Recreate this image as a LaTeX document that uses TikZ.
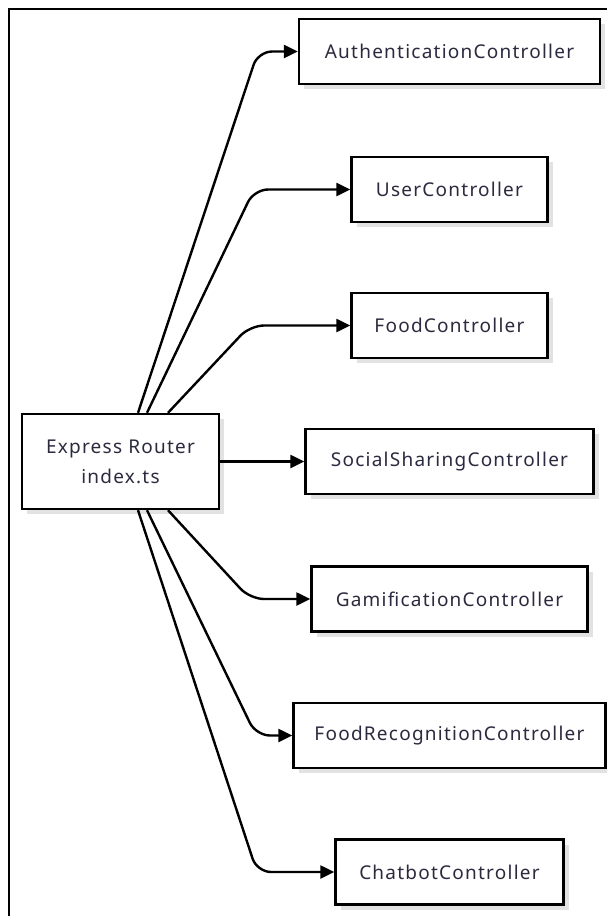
\documentclass[tikz,border=0pt]{standalone}
\usepackage{fontspec}
\setmainfont{Noto Sans}[LetterSpace=6.5]
\usetikzlibrary{arrows.meta,shadows}
\definecolor{labelink}{HTML}{2B2A3F}
\definecolor{shadowgray}{HTML}{E2E2E2}
\tikzset{
  ctrl/.style={draw=black, line width=2.4pt, fill=white, minimum height=65pt,
    inner sep=0pt, text=labelink, font=\fontsize{19}{30}\selectfont,
    drop shadow={shadow xshift=5pt, shadow yshift=-5pt, fill=shadowgray, opacity=1}},
  link/.style={line width=2.4pt, rounded corners=14pt,
    -{Triangle[length=14pt,width=13pt]}}
}
\begin{document}
\begin{tikzpicture}[x=1pt, y=-1pt]
  \useasboundingbox (0,0) rectangle (607,916);
  \clip (0,0) rectangle (607,916);
  % outer frame
  \draw[line width=2.4pt] (9,930) -- (9,9) -- (620,9);
  % router
  \node[ctrl, minimum width=197pt, minimum height=95pt, align=center]
    (router) at (120.5,461.5) {Express Router\\index.ts};
  % controllers
  \node[ctrl, minimum width=301pt] (auth) at (449.5,51.5) {AuthenticationController};
  \node[ctrl, minimum width=196pt] (user) at (449.5,189.5) {UserController};
  \node[ctrl, minimum width=196pt] (food) at (449.5,325.5) {FoodController};
  \node[ctrl, minimum width=288pt] (social) at (449.5,461.5) {SocialSharingController};
  \node[ctrl, minimum width=276pt] (gamif) at (449.5,599) {GamificationController};
  \node[ctrl, minimum width=312pt] (foodrec) at (449.5,735.5) {FoodRecognitionController};
  \node[ctrl, minimum width=228pt] (chatbot) at (449.5,872) {ChatbotController};
  % bends
  \coordinate (kAuth) at (258,51.5);
  \coordinate (kUser) at (254,189.5);
  \coordinate (kFood) at (250,325.5);
  \coordinate (kGamif) at (250,599);
  \coordinate (kFoodrec) at (256,735.5);
  \coordinate (kChatbot) at (257,872);
  % links
  \draw[link] ([xshift=17.5pt]router.north) -- (kAuth) -- (auth.west);
  \draw[link] ([xshift=26.5pt]router.north) -- (kUser) -- (user.west);
  \draw[link] ([xshift=47.5pt]router.north) -- (kFood) -- (food.west);
  \draw[link] (router.east) -- (social.west);
  \draw[link] ([xshift=47.5pt]router.south) -- (kGamif) -- (gamif.west);
  \draw[link] ([xshift=26.5pt]router.south) -- (kFoodrec) -- (foodrec.west);
  \draw[link] ([xshift=17.5pt]router.south) -- (kChatbot) -- (chatbot.west);
\end{tikzpicture}
\end{document}
